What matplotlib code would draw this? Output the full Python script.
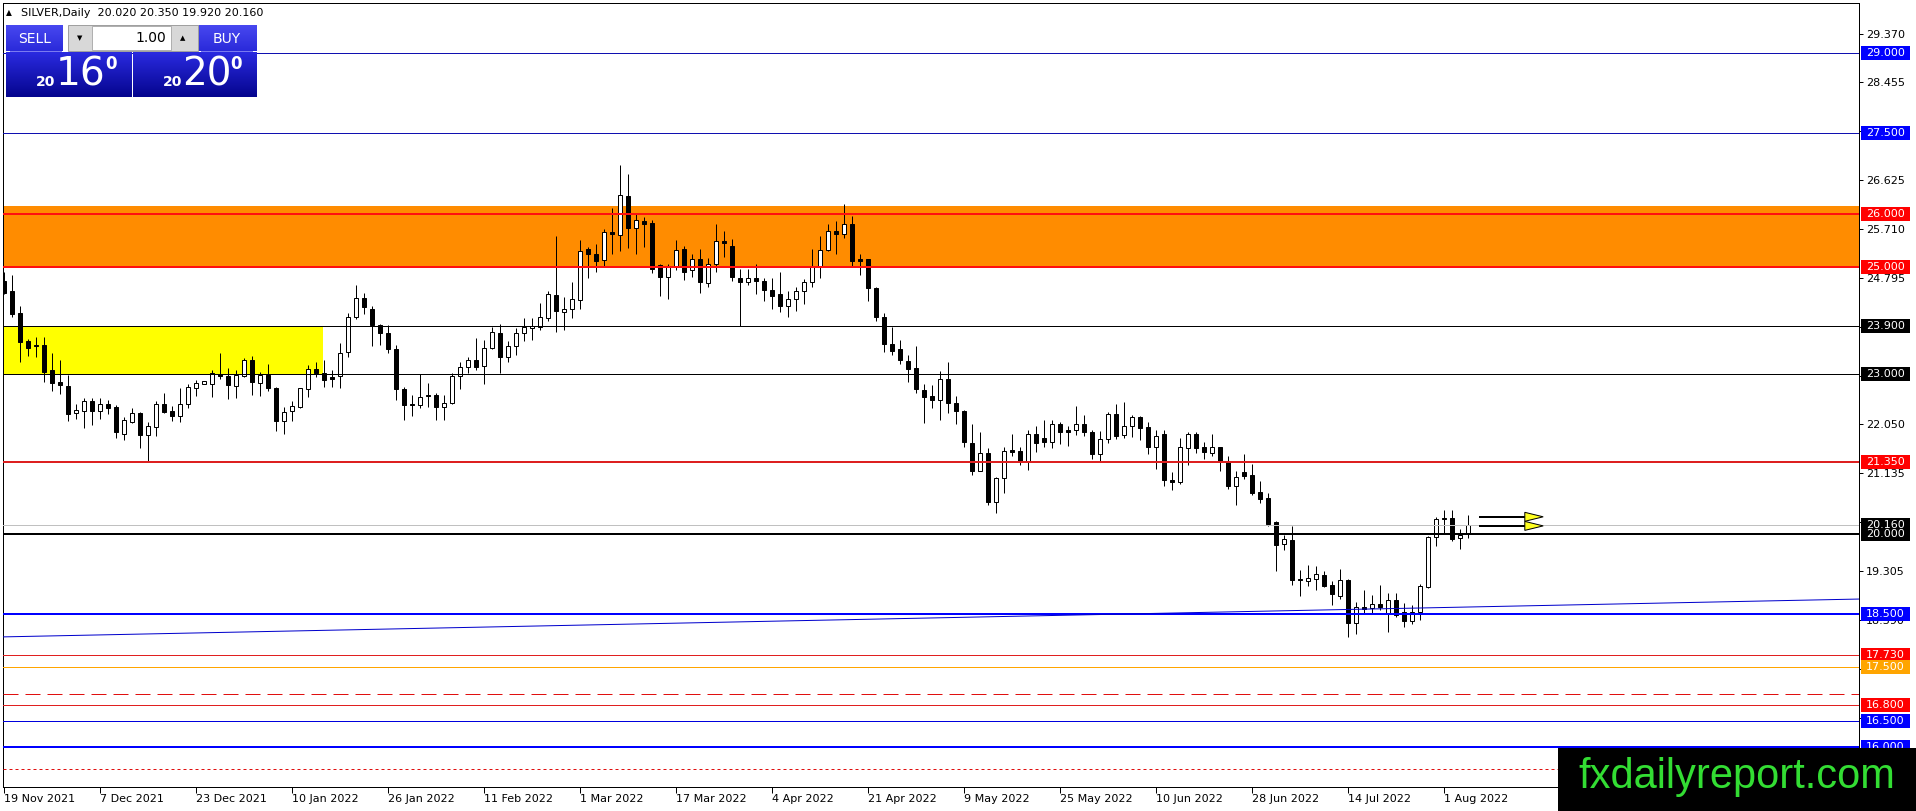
import matplotlib
matplotlib.use("Agg")
import matplotlib.pyplot as plt
import numpy as np
from matplotlib.patches import Rectangle, Polygon
from matplotlib.colors import LinearSegmentedColormap
from matplotlib.transforms import blended_transform_factory

W, H = 1916, 811

# daily OHLC, bar 0 = 19 Nov 2021
OPENS = [24.74, 24.55, 24.13, 23.61, 23.53, 23.53, 23.07, 22.84, 22.77, 22.26,
         22.31, 22.49, 22.31, 22.44, 22.38, 21.88, 22.10, 22.26, 21.86, 22.01,
         22.43, 22.30, 22.20, 22.44, 22.74, 22.80, 22.80, 23.00, 22.96, 22.77,
         22.96, 23.26, 22.82, 22.98, 22.73, 22.12, 22.30, 22.38, 22.71, 23.08,
         23.02, 22.93, 22.95, 23.41, 24.07, 24.41, 24.22, 23.92, 23.76, 23.47,
         22.71, 22.43, 22.41, 22.60, 22.60, 22.37, 22.45, 22.96, 23.12, 23.26,
         23.14, 23.49, 23.77, 23.31, 23.52, 23.77, 23.85, 23.88, 24.04, 24.47,
         24.16, 24.22, 24.38, 25.33, 25.25, 25.13, 25.66, 25.60, 26.33, 25.72,
         25.86, 25.82, 25.03, 24.82, 25.02, 25.33, 24.95, 25.14, 24.70, 25.05,
         25.49, 25.39, 24.80, 24.71, 24.80, 24.74, 24.57, 24.49, 24.27, 24.39,
         24.54, 24.72, 25.02, 25.32, 25.68, 25.61, 25.80, 25.15, 25.15, 24.60,
         24.06, 23.55, 23.46, 23.24, 23.10, 22.70, 22.58, 22.50, 22.91, 22.45,
         22.30, 21.71, 21.18, 21.51, 20.60, 21.04, 21.57, 21.56, 21.35, 21.87,
         21.79, 21.73, 22.06, 21.94, 21.94, 22.05, 21.90, 21.49, 21.77, 22.25,
         21.85, 22.02, 22.18, 22.01, 21.62, 21.88, 21.01, 20.98, 21.60, 21.88,
         21.62, 21.51, 21.62, 21.35, 20.89, 21.15, 21.10, 20.79, 20.67, 20.22,
         19.82, 19.89, 19.15, 19.12, 19.15, 19.23, 19.04, 18.84, 19.14, 18.34,
         18.63, 18.62, 18.69, 18.51, 18.77, 18.53, 18.36, 18.54, 19.01, 19.94,
         20.29, 20.29, 19.92, 20.02]
HIGHS = [24.90, 24.85, 24.27, 23.65, 23.68, 23.68, 23.38, 23.26, 22.98, 22.44,
         22.54, 22.55, 22.55, 22.51, 22.41, 22.19, 22.36, 22.29, 22.10, 22.49,
         22.63, 22.40, 22.74, 22.81, 22.88, 22.86, 23.07, 23.38, 23.10, 23.07,
         23.29, 23.34, 23.04, 23.19, 22.76, 22.38, 22.49, 22.74, 23.17, 23.21,
         23.26, 23.07, 23.58, 24.13, 24.66, 24.52, 24.26, 23.93, 23.92, 23.54,
         22.76, 22.60, 22.99, 22.83, 22.63, 22.61, 23.02, 23.21, 23.31, 23.66,
         23.64, 23.88, 23.94, 23.62, 23.85, 24.04, 24.04, 24.32, 24.55, 25.58,
         24.44, 24.72, 25.50, 25.38, 25.43, 25.71, 26.10, 26.91, 26.74, 25.99,
         25.94, 25.88, 25.05, 25.05, 25.50, 25.39, 25.25, 25.33, 25.16, 25.80,
         25.68, 25.53, 24.97, 24.97, 25.05, 24.80, 24.80, 24.90, 24.54, 24.63,
         24.77, 25.33, 25.58, 25.80, 25.86, 26.18, 25.95, 25.24, 25.15, 24.63,
         24.13, 23.88, 23.64, 23.35, 23.52, 22.81, 22.79, 23.05, 23.22, 22.58,
         22.32, 22.06, 21.90, 21.60, 21.07, 21.63, 21.87, 21.63, 21.95, 22.02,
         22.13, 22.14, 22.10, 22.03, 22.40, 22.23, 21.95, 21.93, 22.29, 22.43,
         22.47, 22.23, 22.20, 22.10, 21.94, 21.94, 21.16, 21.79, 21.91, 21.91,
         21.72, 21.88, 21.62, 21.46, 21.18, 21.50, 21.30, 20.99, 20.76, 20.24,
         19.98, 20.15, 19.32, 19.42, 19.40, 19.30, 19.12, 19.34, 19.15, 18.73,
         18.95, 18.86, 19.04, 18.89, 18.89, 18.71, 18.67, 19.06, 19.96, 20.31,
         20.45, 20.45, 20.10, 20.35]
LOWS = [24.50, 24.06, 23.21, 23.34, 23.32, 22.85, 22.68, 22.62, 22.12, 22.15,
        21.98, 22.04, 22.15, 22.24, 21.80, 21.76, 22.07, 21.61, 21.35, 21.84,
        22.27, 22.12, 22.10, 22.36, 22.58, 22.80, 22.57, 22.90, 22.52, 22.54,
        22.94, 22.61, 22.58, 22.68, 21.93, 21.88, 22.11, 22.36, 22.57, 22.93,
        22.76, 22.76, 22.74, 23.32, 24.02, 24.11, 23.51, 23.54, 23.38, 22.51,
        22.13, 22.20, 22.35, 22.38, 22.13, 22.13, 22.43, 22.71, 23.02, 23.07,
        22.80, 23.46, 23.02, 23.21, 23.35, 23.62, 23.64, 23.81, 23.99, 23.78,
        23.81, 24.04, 24.22, 24.80, 24.91, 25.02, 25.24, 25.29, 25.35, 25.25,
        25.37, 24.88, 24.46, 24.40, 24.94, 24.75, 24.82, 24.52, 24.62, 24.91,
        25.19, 24.74, 23.89, 24.66, 24.49, 24.37, 24.22, 24.16, 24.07, 24.18,
        24.30, 24.62, 24.80, 25.30, 25.24, 25.55, 25.02, 24.84, 24.37, 23.99,
        23.40, 23.35, 23.19, 22.84, 22.63, 22.07, 22.35, 22.13, 22.26, 22.05,
        21.63, 21.10, 21.17, 20.54, 20.39, 20.77, 21.45, 21.29, 21.20, 21.54,
        21.62, 21.60, 21.68, 21.65, 21.85, 21.83, 21.40, 21.37, 21.70, 21.78,
        21.80, 21.81, 21.76, 21.49, 21.21, 20.90, 20.82, 20.93, 21.29, 21.51,
        21.40, 21.45, 21.17, 20.84, 20.54, 21.02, 20.72, 20.57, 20.14, 19.31,
        19.70, 19.04, 18.84, 19.03, 18.94, 19.01, 18.67, 18.79, 18.06, 18.13,
        18.51, 18.51, 18.57, 18.17, 18.44, 18.25, 18.31, 18.38, 18.98, 19.77,
        20.02, 19.87, 19.71, 19.92]
CLOSES = [24.52, 24.11, 23.60, 23.49, 23.51, 23.04, 22.83, 22.78, 22.25, 22.32,
          22.49, 22.31, 22.43, 22.36, 21.90, 22.13, 22.26, 21.86, 22.02, 22.43,
          22.29, 22.20, 22.44, 22.76, 22.82, 22.86, 23.01, 22.96, 22.78, 22.98,
          23.26, 22.84, 22.98, 22.73, 22.12, 22.29, 22.40, 22.73, 23.08, 23.01,
          22.89, 22.91, 23.39, 24.07, 24.41, 24.24, 23.91, 23.76, 23.46, 22.71,
          22.41, 22.41, 22.57, 22.58, 22.37, 22.45, 22.96, 23.12, 23.26, 23.13,
          23.49, 23.79, 23.31, 23.52, 23.77, 23.87, 23.89, 24.06, 24.49, 24.17,
          24.21, 24.39, 25.30, 25.25, 25.12, 25.65, 25.61, 26.35, 25.72, 25.87,
          25.80, 24.97, 24.82, 25.02, 25.32, 24.91, 25.14, 24.72, 25.05, 25.49,
          25.45, 24.82, 24.71, 24.80, 24.74, 24.57, 24.46, 24.27, 24.39, 24.54,
          24.71, 25.02, 25.32, 25.68, 25.61, 25.80, 25.12, 25.12, 24.60, 24.07,
          23.55, 23.43, 23.26, 23.08, 22.71, 22.57, 22.50, 22.91, 22.46, 22.30,
          21.73, 21.18, 21.51, 20.60, 21.04, 21.56, 21.54, 21.35, 21.87, 21.70,
          21.73, 22.05, 21.91, 21.91, 22.05, 21.90, 21.49, 21.77, 22.25, 21.84,
          22.02, 22.18, 21.98, 21.62, 21.83, 21.00, 20.98, 21.62, 21.88, 21.60,
          21.53, 21.62, 21.35, 20.89, 21.07, 21.09, 20.77, 20.65, 20.19, 19.80,
          19.90, 19.14, 19.13, 19.17, 19.24, 19.03, 18.87, 19.14, 18.34, 18.63,
          18.60, 18.69, 18.63, 18.77, 18.48, 18.36, 18.54, 19.02, 19.94, 20.28,
          20.27, 19.90, 19.98, 20.16]

DATE_LABELS = ["19 Nov 2021", "7 Dec 2021", "23 Dec 2021", "10 Jan 2022", "26 Jan 2022",
               "11 Feb 2022", "1 Mar 2022", "17 Mar 2022", "4 Apr 2022", "21 Apr 2022",
               "9 May 2022", "25 May 2022", "10 Jun 2022", "28 Jun 2022", "14 Jul 2022",
               "1 Aug 2022"]
DATE_STEP = 12

# horizontal levels: price, line colour, line width px, style, label box colour
LEVELS = [
    (29.0, "#1010B0", 1, "-", "#0000FF"),
    (27.5, "#1010B0", 1, "-", "#0000FF"),
    (26.0, "#FF1010", 2, "-", "#FF0000"),
    (25.0, "#FF1010", 2, "-", "#FF0000"),
    (23.9, "#000000", 1, "-", "#000000"),
    (23.0, "#000000", 1, "-", "#000000"),
    (21.35, "#DD2020", 2, "-", "#FF0000"),
    (20.16, "#C0C0C0", 1, "-", "#000000"),
    (20.0, "#000000", 2, "-", "#000000"),
    (18.5, "#0000FF", 2, "-", "#0000FF"),
    (17.73, "#E02020", 1, "-", "#FF0000"),
    (17.5, "#FFA500", 1, "-", "#FFA500"),
    (17.0, "#E01010", 1, "dash", None),
    (16.8, "#E02020", 1, "-", "#FF0000"),
    (16.5, "#0000DD", 1, "-", "#0000FF"),
    (16.0, "#0000FF", 2, "-", "#0000FF"),
    (15.6, "#E01010", 1, "dot", None),
]
ORANGE_ZONE = (25.0, 26.14)
YELLOW_ZONE = (23.0, 23.9, 39.9)        # low, high, end bar
TREND = ((-0.5, 18.07), (231.9, 18.78))  # (bar, price) ends
ARROW_PRICES = [20.32, 20.15]
ARROW_BARS = (184.5, 190.1, 192.4)
AXIS_TICKS = [29.37 - 0.915 * k for k in range(15)]

HEADER = "SILVER,Daily  20.020 20.350 19.920 20.160"
BID_BIG, ASK_BIG, PRICE_HEAD = "16", "20", "20"

PX = 0.72  # one pixel in points at dpi 100


def fx(x):
    return x / W


def fy(y):
    return 1 - y / H


fig = plt.figure(figsize=(W / 100, H / 100), dpi=100)
fig.patch.set_facecolor("white")
ax = fig.add_axes([fx(2.7), fy(787), (1859 - 2.7) / W, (787 - 2.7) / H])
ax.set_xlim(-0.1625, 231.875)
ax.set_ylim(15.26, 29.948)

# zones
ax.axhspan(ORANGE_ZONE[0], ORANGE_ZONE[1], color="#FF8C00", lw=0, zorder=1)
ax.add_patch(Rectangle((-5, YELLOW_ZONE[0]), YELLOW_ZONE[2] + 5, YELLOW_ZONE[1] - YELLOW_ZONE[0],
                       color="#FFFF00", lw=0, zorder=1))

# candles
idx = np.arange(len(CLOSES))
o, h, l, c = map(np.array, (OPENS, HIGHS, LOWS, CLOSES))
ax.vlines(idx, l, h, color="black", lw=PX, zorder=2)
body_lo = np.minimum(o, c)
body_h = np.maximum(np.abs(c - o), 0.012)
face = np.where(c >= o, "white", "black")
ax.bar(idx, body_h, bottom=body_lo, width=0.62, color=face, edgecolor="black",
       lw=PX, zorder=2.2)

# levels
for price, col, wpx, style, _ in LEVELS:
    kw = dict(color=col, lw=wpx * PX, zorder=3)
    if style == "dash":
        kw["dashes"] = (15, 7)
    elif style == "dot":
        kw["dashes"] = (3, 3)
    ax.axhline(price, **kw)

ax.plot([TREND[0][0], TREND[1][0]], [TREND[0][1], TREND[1][1]], color="#0000CC",
        lw=PX, zorder=3)

# arrows
tri_h = 4.5 / 53.4
for p in ARROW_PRICES:
    ax.plot([ARROW_BARS[0], ARROW_BARS[1]], [p, p], color="black", lw=2 * PX, zorder=4)
    ax.add_patch(Polygon([(ARROW_BARS[1], p + tri_h), (ARROW_BARS[1], p - tri_h),
                          (ARROW_BARS[2], p)], closed=True, facecolor="#FFFF20",
                         edgecolor="black", lw=PX, zorder=4.5))

# axes cosmetics
for s in ax.spines.values():
    s.set_linewidth(PX)
ax.yaxis.tick_right()
ax.set_yticks(AXIS_TICKS)
ax.set_yticklabels([f"{v:.3f}" for v in AXIS_TICKS])
ax.tick_params(axis="y", length=3, width=PX, pad=2, labelsize=8)
ax.set_xticks([i * DATE_STEP for i in range(len(DATE_LABELS))])
ax.set_xticklabels(DATE_LABELS)
for lbl in ax.get_xticklabels():
    lbl.set_ha("left")
ax.tick_params(axis="x", length=4, width=PX, pad=1, labelsize=8)

# price label boxes on the right scale
bt = blended_transform_factory(ax.transAxes, ax.transData)
bx0 = (1861 - 2.7) / (1859 - 2.7)
bw = 49 / (1859 - 2.7)
bh = 14 / 53.4
for price, _, _, _, box in LEVELS:
    if box is None:
        continue
    ax.add_patch(Rectangle((bx0, price - bh / 2), bw, bh, transform=bt, facecolor=box,
                           edgecolor="none", clip_on=False, zorder=4))
    ax.text(bx0 + bw / 2, price, f"{price:.3f}", transform=bt, ha="center", va="center",
            color="white", fontsize=8, clip_on=False, zorder=5)

# header and one-click trading panel
fig.text(fx(6), fy(13), "▲", fontsize=5.5, va="center", ha="left")
fig.text(fx(21), fy(13), HEADER, fontsize=8, va="center", ha="left")


def rect(x0, y0, x1, y1, **kw):
    fig.patches.append(Rectangle((fx(x0), fy(y1)), (x1 - x0) / W, (y1 - y0) / H,
                                 transform=fig.transFigure, figure=fig, **kw))


def gradient(x0, y0, x1, y1, c_top, c_bot):
    gax = fig.add_axes([fx(x0), fy(y1), (x1 - x0) / W, (y1 - y0) / H], zorder=5)
    cmap = LinearSegmentedColormap.from_list("g", [c_top, c_bot])
    gax.imshow(np.linspace(0, 1, 50).reshape(-1, 1), aspect="auto", cmap=cmap)
    gax.set_axis_off()


gradient(6, 25, 63, 51, "#4848F0", "#2A2ADA")
gradient(198, 25, 257, 51, "#4848F0", "#2A2ADA")
gradient(6, 52, 131, 97, "#2A2AE0", "#05058E")
gradient(133, 52, 257, 97, "#2A2AE0", "#05058E")
rect(10, 51, 62, 52, facecolor="#7A7AF0", zorder=6)
rect(201, 51, 253, 52, facecolor="#7A7AF0", zorder=6)
rect(68, 25, 198, 51, facecolor="#D8D8D8", edgecolor="#A0A0A0", lw=PX, zorder=6)
rect(92, 26, 171, 50, facecolor="white", edgecolor="#B0B0B0", lw=PX, zorder=6)

fig.text(fx(35), fy(39), "SELL", color="white", fontsize=10, ha="center", va="center", zorder=7)
fig.text(fx(227), fy(39), "BUY", color="white", fontsize=10, ha="center", va="center", zorder=7)
fig.text(fx(80), fy(38), "▼", fontsize=5, ha="center", va="center", zorder=7)
fig.text(fx(183), fy(38), "▲", fontsize=5, ha="center", va="center", zorder=7)
fig.text(fx(166), fy(38), "1.00", fontsize=10, ha="right", va="center", zorder=7)

fig.text(fx(46), fy(82), PRICE_HEAD, color="white", fontsize=10, fontweight="bold",
         ha="center", va="center", zorder=7)
fig.text(fx(81), fy(74), BID_BIG, color="white", fontsize=28, ha="center", va="center", zorder=7)
fig.text(fx(111), fy(64), "0", color="white", fontsize=12, fontweight="bold",
         ha="center", va="center", zorder=7)
fig.text(fx(173), fy(82), PRICE_HEAD, color="white", fontsize=10, fontweight="bold",
         ha="center", va="center", zorder=7)
fig.text(fx(207), fy(74), ASK_BIG, color="white", fontsize=28, ha="center", va="center", zorder=7)
fig.text(fx(236), fy(64), "0", color="white", fontsize=12, fontweight="bold",
         ha="center", va="center", zorder=7)

# watermark
rect(1558, 748, 1916, 811, facecolor="black", zorder=10)
fig.text(fx(1737), fy(777), "fxdailyreport.com", color="#33DD33", fontsize=30,
         family="Liberation Sans", ha="center", va="center", zorder=11)

fig.savefig("out.png", dpi=100, facecolor="white")
